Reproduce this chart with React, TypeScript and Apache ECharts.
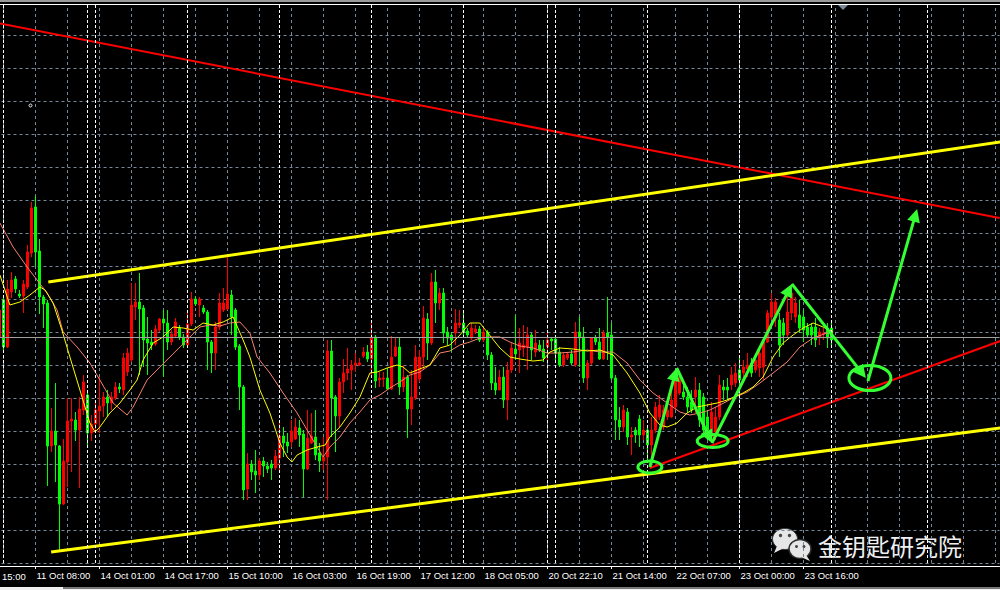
import React, { useEffect, useRef } from 'react';
import * as echarts from 'echarts';

// ---------- axis / layout constants ----------
const N_SLOTS = 258;          // hourly slots across the window (incl. chart shift)
const TICK_STEP = 16;         // a time label every 16 bars
const CANDLE_START = 7;       // slot index of the first (partially visible) candle
const Y_MIN = 1481.7;
const Y_MAX = 1537.8;
const Y_STEP = 3.3;

const tickLabels = [
  '10 Oct 15:00', '11 Oct 08:00', '14 Oct 01:00', '14 Oct 17:00', '15 Oct 10:00',
  '16 Oct 03:00', '16 Oct 19:00', '17 Oct 12:00', '18 Oct 05:00', '20 Oct 22:10',
  '21 Oct 14:00', '22 Oct 07:00', '23 Oct 00:00', '23 Oct 16:00',
];

// ---------- candles (H1) ----------
const opens = [
  1504.3, 1508.0, 1503.3, 1508.8, 1510.1, 1508.6, 1508.4, 1509.3, 1512.7, 1517.3,
  1512.9, 1508.3, 1507.7, 1493.4, 1494.9, 1493.4, 1487.6, 1491.8, 1495.9, 1496.0,
  1495.0, 1497.0, 1498.5, 1494.7, 1495.6, 1496.9, 1497.4, 1498.3, 1497.7, 1498.2,
  1499.3, 1499.0, 1500.8, 1502.0, 1507.3, 1507.8, 1507.2, 1504.1, 1503.8, 1503.6,
  1505.0, 1506.1, 1505.7, 1503.8, 1504.4, 1505.2, 1504.3, 1503.5, 1505.6, 1508.1,
  1507.5, 1507.2, 1506.8, 1503.8, 1502.7, 1505.3, 1507.0, 1507.1, 1508.5, 1507.0,
  1503.4, 1499.3, 1489.1, 1491.6, 1490.9, 1490.5, 1491.9, 1491.4, 1491.6, 1491.2,
  1492.2, 1494.4, 1493.8, 1493.8, 1494.1, 1495.2, 1494.6, 1491.1, 1493.7, 1494.3,
  1492.7, 1491.9, 1492.3, 1502.9, 1498.3, 1496.4, 1499.8, 1500.7, 1501.0, 1501.5,
  1501.5, 1502.4, 1502.8, 1502.1, 1504.3, 1500.0, 1500.1, 1500.2, 1499.1, 1502.4,
  1503.3, 1499.3, 1500.3, 1497.1, 1498.2, 1500.1, 1502.3, 1506.1, 1503.7, 1509.8,
  1507.7, 1508.7, 1504.8, 1504.5, 1504.7, 1505.5, 1505.7, 1504.9, 1504.2, 1504.8,
  1505.1, 1504.0, 1504.8, 1502.5, 1499.7, 1499.0, 1500.3, 1498.0, 1501.0, 1503.1,
  1503.0, 1503.2, 1503.3, 1504.5, 1502.8, 1503.5, 1503.1, 1503.3, 1504.1, 1504.1,
  1502.8, 1501.5, 1502.2, 1502.6, 1501.5, 1504.8, 1504.3, 1500.2, 1501.7, 1504.2,
  1503.8, 1502.1, 1504.7, 1504.5, 1500.2, 1496.0, 1495.3, 1496.8, 1494.3, 1495.0,
  1496.1, 1494.5, 1495.0, 1493.5, 1495.0, 1496.3, 1495.3, 1496.3, 1496.3, 1497.3,
  1498.7, 1498.8, 1498.3, 1497.8, 1498.3, 1499.0, 1498.3, 1496.3, 1494.3, 1494.8,
  1496.3, 1499.3, 1499.3, 1499.5, 1499.7, 1501.0, 1500.7, 1501.1, 1501.7, 1501.0,
  1501.2, 1501.3, 1503.8, 1506.3, 1506.2, 1506.0, 1505.7, 1504.5, 1506.7, 1506.3,
  1506.5, 1506.3, 1505.3, 1505.3, 1505.3, 1504.3, 1504.6, 1505.2, 1505.2,
];
const closes = [
  1507.0, 1503.3, 1509.1, 1510.0, 1509.1, 1508.4, 1509.6, 1512.8, 1517.2, 1512.8,
  1508.3, 1507.6, 1493.4, 1494.9, 1493.5, 1487.6, 1491.9, 1495.9, 1496.1, 1495.0,
  1497.1, 1499.8, 1494.7, 1495.6, 1497.0, 1497.4, 1498.3, 1497.7, 1498.3, 1499.3,
  1499.1, 1502.2, 1502.7, 1507.5, 1507.8, 1507.1, 1504.0, 1503.7, 1503.5, 1505.1,
  1506.1, 1505.7, 1503.8, 1504.6, 1505.8, 1504.3, 1503.5, 1505.6, 1508.1, 1507.6,
  1508.1, 1506.8, 1503.8, 1502.7, 1505.3, 1507.7, 1507.7, 1508.6, 1506.3, 1503.3,
  1499.3, 1489.0, 1491.6, 1490.8, 1490.5, 1491.9, 1491.4, 1491.1, 1491.2, 1492.4,
  1494.4, 1493.7, 1493.4, 1494.9, 1495.3, 1494.5, 1491.1, 1494.2, 1494.4, 1492.5,
  1491.9, 1492.3, 1502.9, 1498.2, 1496.4, 1499.8, 1500.7, 1501.1, 1501.5, 1501.7,
  1501.7, 1502.8, 1502.1, 1504.3, 1499.9, 1500.2, 1500.2, 1499.1, 1502.3, 1503.3,
  1499.3, 1500.3, 1497.1, 1498.3, 1502.3, 1502.3, 1506.2, 1503.7, 1509.8, 1507.7,
  1508.7, 1504.7, 1504.2, 1504.0, 1505.7, 1505.7, 1504.8, 1504.5, 1505.2, 1505.1,
  1504.0, 1504.8, 1502.5, 1499.7, 1499.0, 1500.3, 1498.0, 1501.0, 1503.2, 1502.6,
  1503.7, 1503.5, 1504.5, 1503.0, 1503.7, 1503.0, 1502.2, 1504.0, 1503.9, 1502.7,
  1501.5, 1502.5, 1502.6, 1501.7, 1504.8, 1504.2, 1500.2, 1501.7, 1504.2, 1503.8,
  1502.1, 1504.7, 1504.3, 1500.2, 1496.0, 1495.3, 1497.0, 1494.3, 1494.5, 1494.5,
  1494.5, 1495.0, 1493.5, 1495.0, 1497.3, 1497.5, 1497.0, 1497.0, 1498.0, 1500.0,
  1500.0, 1498.3, 1497.3, 1497.0, 1499.0, 1496.0, 1495.0, 1495.0, 1496.8, 1496.3,
  1499.5, 1499.0, 1499.0, 1500.5, 1500.7, 1500.0, 1501.3, 1501.5, 1500.7, 1502.0,
  1502.7, 1503.8, 1506.7, 1507.8, 1507.8, 1503.5, 1504.5, 1506.8, 1508.7, 1507.7,
  1505.2, 1505.0, 1504.5, 1504.5, 1504.0, 1504.8, 1504.7, 1504.2, 1504.0,
];
const lows = [
  1503.5, 1503.0, 1503.2, 1508.2, 1508.7, 1508.2, 1506.7, 1509.1, 1512.3, 1511.4,
  1506.6, 1505.2, 1489.4, 1492.8, 1489.8, 1483.0, 1487.5, 1489.3, 1490.8, 1493.9,
  1489.2, 1496.5, 1493.3, 1493.9, 1494.7, 1494.7, 1496.3, 1496.4, 1497.0, 1498.0,
  1498.7, 1498.5, 1500.4, 1501.8, 1506.0, 1500.5, 1501.3, 1500.5, 1503.0, 1503.4,
  1504.8, 1500.3, 1503.0, 1503.5, 1504.2, 1504.0, 1503.2, 1503.3, 1505.4, 1507.4,
  1506.3, 1506.6, 1501.0, 1500.7, 1501.0, 1505.0, 1506.8, 1507.0, 1504.5, 1503.0,
  1497.0, 1488.0, 1488.0, 1490.0, 1488.7, 1490.0, 1490.3, 1490.7, 1490.0, 1491.0,
  1491.0, 1492.3, 1492.7, 1493.3, 1494.0, 1493.3, 1488.3, 1491.0, 1493.6, 1492.0,
  1490.8, 1491.0, 1488.0, 1494.3, 1492.8, 1495.3, 1498.7, 1500.0, 1499.0, 1500.8,
  1501.4, 1502.2, 1501.8, 1500.2, 1499.2, 1499.3, 1499.3, 1499.0, 1499.0, 1502.3,
  1498.5, 1498.8, 1494.2, 1495.5, 1498.0, 1499.8, 1501.0, 1502.0, 1503.5, 1505.7,
  1507.0, 1503.7, 1503.5, 1502.8, 1503.5, 1505.2, 1504.2, 1504.2, 1504.0, 1504.6,
  1503.8, 1503.8, 1502.0, 1499.0, 1498.5, 1499.0, 1497.2, 1496.0, 1500.7, 1502.0,
  1500.7, 1502.3, 1501.0, 1502.0, 1502.3, 1502.8, 1501.8, 1502.0, 1503.0, 1501.7,
  1501.3, 1501.3, 1502.0, 1501.5, 1501.3, 1501.3, 1499.7, 1499.0, 1501.5, 1503.5,
  1502.0, 1502.0, 1502.0, 1500.0, 1494.0, 1494.0, 1494.8, 1493.5, 1492.5, 1493.7,
  1493.3, 1494.0, 1492.0, 1491.7, 1494.7, 1496.0, 1495.0, 1496.0, 1496.2, 1497.0,
  1498.5, 1498.0, 1496.7, 1496.7, 1496.7, 1495.3, 1494.7, 1494.0, 1493.7, 1494.0,
  1496.0, 1498.0, 1498.0, 1499.0, 1499.3, 1499.3, 1500.3, 1500.3, 1500.3, 1500.7,
  1500.3, 1500.0, 1503.7, 1506.0, 1505.3, 1502.3, 1503.5, 1504.3, 1506.0, 1505.7,
  1504.7, 1503.8, 1504.2, 1503.5, 1503.3, 1503.5, 1504.0, 1503.2, 1503.3,
];
const highs = [
  1508.0, 1508.4, 1510.0, 1510.8, 1510.4, 1509.0, 1510.0, 1513.5, 1517.8, 1518.4,
  1514.1, 1508.5, 1508.0, 1497.2, 1499.7, 1493.5, 1494.1, 1498.2, 1498.2, 1496.8,
  1498.3, 1500.5, 1499.0, 1496.5, 1497.8, 1500.3, 1498.8, 1499.0, 1498.8, 1499.8,
  1499.7, 1502.7, 1503.2, 1509.7, 1509.7, 1510.7, 1507.5, 1506.3, 1505.0, 1505.5,
  1506.2, 1507.0, 1507.0, 1505.0, 1506.2, 1505.5, 1504.6, 1507.0, 1508.8, 1508.4,
  1508.3, 1507.5, 1507.0, 1504.0, 1505.8, 1508.7, 1509.2, 1512.3, 1509.0, 1507.2,
  1503.6, 1499.5, 1492.7, 1492.0, 1493.0, 1492.2, 1492.3, 1491.8, 1492.0, 1493.0,
  1496.0, 1495.3, 1494.7, 1496.0, 1496.2, 1496.0, 1495.0, 1497.0, 1496.7, 1497.0,
  1493.7, 1494.3, 1504.0, 1504.0, 1498.5, 1500.2, 1502.1, 1503.2, 1502.0, 1502.7,
  1502.2, 1503.3, 1503.5, 1505.8, 1504.5, 1500.8, 1500.8, 1501.2, 1504.4, 1504.3,
  1504.2, 1501.5, 1500.5, 1501.0, 1503.5, 1503.0, 1507.4, 1506.7, 1510.7, 1511.0,
  1509.2, 1509.2, 1505.3, 1504.8, 1507.1, 1507.0, 1506.7, 1505.2, 1505.7, 1505.5,
  1505.4, 1505.2, 1505.0, 1502.8, 1501.3, 1501.0, 1501.3, 1501.8, 1503.7, 1506.5,
  1505.2, 1505.5, 1505.3, 1504.7, 1505.0, 1504.0, 1504.0, 1504.7, 1504.3, 1504.5,
  1503.3, 1502.8, 1502.8, 1503.0, 1505.8, 1506.3, 1505.3, 1502.0, 1504.3, 1504.5,
  1505.2, 1505.0, 1508.3, 1505.7, 1500.5, 1497.3, 1497.5, 1497.2, 1495.3, 1495.3,
  1496.5, 1496.0, 1495.2, 1496.3, 1497.8, 1498.5, 1497.5, 1498.0, 1499.0, 1500.5,
  1500.7, 1499.5, 1499.3, 1499.0, 1500.3, 1499.7, 1498.7, 1497.0, 1497.8, 1497.3,
  1500.5, 1500.0, 1500.2, 1501.3, 1501.7, 1502.3, 1502.0, 1502.7, 1502.2, 1502.5,
  1503.3, 1504.3, 1507.0, 1508.7, 1508.2, 1506.7, 1506.2, 1509.2, 1509.6, 1508.3,
  1508.0, 1507.0, 1505.7, 1505.7, 1506.2, 1505.2, 1505.2, 1505.7, 1505.7,
];

// ---------- moving averages (read at sampled bars) ----------
const maFastIdx = [
  7.1, 9.6, 12.1, 14.6, 17.1, 18.4, 20.4, 22.6, 24.6, 27.1, 29.6, 30.9, 32.1, 34.6, 37.1,
  39.6, 41.4, 42.9, 45.4, 47.9, 50.4, 52.9, 55.4, 57.9, 60.4, 62.9, 65.4, 67.9, 69.6, 72.1,
  74.6, 77.1, 78.9, 80.1, 81.4, 83.9, 86.4, 88.4, 89.6, 92.1, 94.6, 97.1, 99.6, 101.4, 103.9,
  106.4, 107.9, 109.6, 111.4, 114.6, 117.1, 119.6, 122.1, 124.6, 127.1, 128.9, 132.1, 134.6, 137.1, 140.4,
  142.9, 144.6, 147.1, 150.4, 153.9, 157.1, 160.4, 163.9, 167.1, 169.6, 172.1, 173.9, 176.4, 178.9, 181.4,
  183.9, 186.4, 188.9, 192.9, 195.4, 197.9, 200.4, 202.9, 205.4, 207.9, 210.4, 212.9, 215.4,
];
const maFastVal = [
  1510.5, 1507.5, 1507.8, 1508.5, 1509.3, 1509.0, 1507.7, 1505.0, 1502.3, 1499.0, 1495.7, 1494.8, 1495.3, 1496.7, 1497.7,
  1499.0, 1500.0, 1502.0, 1503.7, 1504.3, 1505.3, 1505.2, 1505.0, 1505.7, 1505.5, 1505.8, 1506.3, 1504.0, 1502.3, 1499.0,
  1496.7, 1493.7, 1492.3, 1491.8, 1492.5, 1493.0, 1493.3, 1493.5, 1494.3, 1495.3, 1496.7, 1498.3, 1500.7, 1500.8, 1501.2,
  1501.5, 1501.3, 1500.7, 1501.0, 1501.5, 1503.2, 1503.5, 1504.5, 1505.7, 1505.7, 1504.8, 1503.2, 1502.3, 1502.1, 1501.9,
  1502.0, 1502.8, 1503.2, 1503.1, 1502.9, 1503.0, 1502.5, 1500.7, 1498.7, 1496.7, 1495.5, 1495.3, 1495.7, 1496.7, 1497.3,
  1497.5, 1497.7, 1498.0, 1498.7, 1499.3, 1500.3, 1502.3, 1503.7, 1504.5, 1505.2, 1505.7, 1505.3, 1504.8,
];
const maSlowIdx = [
  7.1, 10.4, 13.9, 16.4, 18.9, 21.4, 22.9, 26.4, 29.6, 32.1, 35.4, 38.9, 40.4, 43.9, 47.1,
  49.6, 52.1, 54.6, 57.1, 59.6, 62.1, 64.6, 67.1, 69.6, 71.4, 74.6, 77.9, 81.4, 83.9, 86.4,
  87.9, 89.6, 92.1, 94.6, 97.1, 99.6, 102.1, 104.6, 107.1, 109.6, 112.1, 114.6, 117.1, 119.6, 122.1,
  124.6, 127.1, 129.6, 132.1, 134.6, 137.1, 140.4, 143.9, 147.1, 150.4, 153.9, 157.1, 160.4, 163.9, 167.1,
  170.4, 173.9, 177.1, 179.6, 182.1, 184.6, 187.1, 190.4, 193.9, 197.1, 200.4, 203.9, 207.1, 210.4, 213.9, 215.4,
];
const maSlowVal = [
  1515.7, 1513.3, 1511.3, 1510.0, 1508.7, 1507.0, 1504.8, 1503.3, 1501.7, 1500.0, 1497.7, 1496.5, 1497.3, 1500.0, 1501.3,
  1502.3, 1503.3, 1504.3, 1505.3, 1505.5, 1505.4, 1505.7, 1505.8, 1504.7, 1502.3, 1500.7, 1498.7, 1496.7, 1495.0, 1493.3,
  1492.3, 1493.3, 1494.3, 1495.7, 1496.8, 1498.0, 1498.5, 1499.2, 1499.8, 1500.5, 1500.8, 1501.5, 1502.7, 1502.9, 1503.5,
  1503.8, 1504.2, 1504.3, 1504.3, 1503.8, 1503.4, 1503.2, 1502.7, 1502.7, 1502.8, 1503.0, 1502.8, 1502.8, 1501.7, 1500.0,
  1498.7, 1497.7, 1496.8, 1496.5, 1496.7, 1497.0, 1497.5, 1498.2, 1498.8, 1499.7, 1500.7, 1501.8, 1503.3, 1504.2, 1504.7, 1504.8,
];

// ---------- drawn objects ----------
const bidPrice = 1504.3;
const daySeparators = [8, 29, 31, 54, 77, 100, 123, 144, 146, 169, 192, 215, 239];

const redDownIdx = [0, 257];
const redDownVal = [1536.2, 1516.2];
const yellowUpIdx = [19.2, 257.2];
const yellowUpVal = [1509.8, 1523.8];
const yellowLowIdx = [19.9, 257.2];
const yellowLowVal = [1482.8, 1495.2];
const redUpIdx = [169.6, 257.2];
const redUpVal = [1491.2, 1503.9];

// green hand-drawn arrows: from point -> arrow tip
const arrowFromIdx = [169.6, 176.3, 185.1, 205.1, 224.1];
const arrowFromVal = [1491.3, 1501.2, 1493.7, 1509.6, 1499.9];
const arrowTipIdx = [176.3, 185.1, 205.1, 223.6, 236.4];
const arrowTipVal = [1501.2, 1493.7, 1509.6, 1500.2, 1517.1];

const ellipseIdx = [169.6, 185.3, 224.6];
const ellipseVal = [1491.3, 1493.9, 1500.2];
const ELLIPSE_RX = [12, 15.5, 21];
const ELLIPSE_RY = [6, 6.5, 12.5];

const GRID_COLOR = '#778899';
const ANNOT_GREEN = '#33ff33';
const LABEL_FONT = '"Liberation Sans", Arial, sans-serif';

const isLabelSlot = (i: number) => i % TICK_STEP === 0 && i / TICK_STEP < tickLabels.length;

export default function App() {
  const ref = useRef<HTMLDivElement>(null);

  useEffect(() => {
    if (!ref.current) return;
    const chart = echarts.init(ref.current, undefined, { renderer: 'svg' });

    const categories = Array.from({ length: N_SLOTS }, (_, i) =>
      isLabelSlot(i) ? tickLabels[i / TICK_STEP] : 'slot' + i);
    const candleData = Array.from({ length: N_SLOTS }, (_, i) => {
      const k = i - CANDLE_START;
      return k >= 0 && k < opens.length ? [opens[k], closes[k], lows[k], highs[k]] : '-';
    });
    const zip = (a: number[], b: number[]) => a.map((v, i) => [v, b[i]]);

    const trend = (name: string, idx: number[], val: number[], color: string, width: number) => ({
      name, type: 'line', xAxisIndex: 1, yAxisIndex: 0, data: zip(idx, val),
      showSymbol: false, symbol: 'none', silent: true, z: 4,
      lineStyle: { color, width, type: 'solid' },
    });

    // the first label is clipped by the window edge: only its time part is visible
    const firstLabelVisible = tickLabels[0].split(' ').pop();

    const option: any = {
      animation: false,
      backgroundColor: '#000000',
      grid: { left: -28.5, right: 0.5, top: 2, bottom: 27, containLabel: false, outerBoundsMode: 'none' },
      xAxis: [
        {
          type: 'category', data: categories, boundaryGap: false, offset: 3,
          axisLine: { show: true, onZero: false, lineStyle: { color: '#ffffff', width: 1 } },
          axisTick: { show: true, interval: (i: number) => isLabelSlot(i) && i > 0, length: 3, lineStyle: { color: '#ffffff' } },
          axisLabel: {
            show: true, interval: (i: number) => isLabelSlot(i) && i > 0, color: '#ffffff', fontSize: 9.5,
            fontFamily: LABEL_FONT, align: 'left', margin: 4, padding: [0, 0, 0, 1],
          },
          splitLine: { show: true, interval: (i: number) => i % 8 === 0, lineStyle: { color: GRID_COLOR, type: [3, 3], width: 1 } },
        },
        { type: 'value', min: 0, max: N_SLOTS - 1, show: false },
      ],
      yAxis: {
        type: 'value', min: Y_MIN, max: Y_MAX, interval: Y_STEP, scale: true,
        axisLine: { show: false }, axisTick: { show: false }, axisLabel: { show: false },
        splitLine: { show: true, lineStyle: { color: GRID_COLOR, type: [3, 3], width: 1 } },
      },
      series: [
        {
          name: 'separators', type: 'line', xAxisIndex: 1, data: [[0, bidPrice]], showSymbol: false, symbol: 'none',
          lineStyle: { width: 0 }, silent: true, z: 1,
          markLine: {
            silent: true, symbol: ['none', 'none'], label: { show: false },
            lineStyle: { color: '#ffffff', type: [3, 2], width: 1 },
            data: daySeparators.map((v) => ({ xAxis: v })),
          },
        },
        {
          name: 'XAU H1', type: 'candlestick', xAxisIndex: 0, data: candleData, barWidth: 2.4, z: 2,
          itemStyle: { color: '#ff0000', color0: '#00ff00', borderColor: '#ff0000', borderColor0: '#00ff00', borderWidth: 1 },
          markLine: {
            silent: true, symbol: ['none', 'none'], label: { show: false },
            lineStyle: { color: '#a0a0a0', type: 'solid', width: 1 },
            data: [{ yAxis: bidPrice }],
          },
        },
        {
          name: 'MA slow', type: 'line', xAxisIndex: 1, data: zip(maSlowIdx, maSlowVal), showSymbol: false, symbol: 'none',
          silent: true, z: 3, lineStyle: { color: '#fa8072', width: 1 },
        },
        {
          name: 'MA fast', type: 'line', xAxisIndex: 1, data: zip(maFastIdx, maFastVal), showSymbol: false, symbol: 'none',
          silent: true, z: 3, lineStyle: { color: '#ffff00', width: 1 },
        },
        trend('red down', redDownIdx, redDownVal, '#ff0000', 2),
        trend('yellow upper', yellowUpIdx, yellowUpVal, '#ffff00', 3),
        trend('yellow lower', yellowLowIdx, yellowLowVal, '#ffff00', 3),
        trend('red up', redUpIdx, redUpVal, '#ff0000', 2),
        {
          name: 'arrows', type: 'custom', xAxisIndex: 1, yAxisIndex: 0, z: 6, silent: true,
          data: arrowFromIdx.map((s, i) => [s, arrowFromVal[i], arrowTipIdx[i], arrowTipVal[i]]),
          encode: { x: [0, 2], y: [1, 3] },
          renderItem: (_params: any, api: any) => {
            const a = api.coord([api.value(0), api.value(1)]);
            const b = api.coord([api.value(2), api.value(3)]);
            const dx = b[0] - a[0];
            const dy = b[1] - a[1];
            const len = Math.hypot(dx, dy) || 1;
            const ux = dx / len;
            const uy = dy / len;
            const HL = 13;
            const HW = 6.5;
            const bx = b[0] - ux * HL;
            const by = b[1] - uy * HL;
            return {
              type: 'group',
              children: [
                {
                  type: 'line',
                  shape: { x1: a[0], y1: a[1], x2: bx + ux * 3, y2: by + uy * 3 },
                  style: { stroke: ANNOT_GREEN, lineWidth: 3 },
                },
                {
                  type: 'polygon',
                  shape: { points: [[b[0], b[1]], [bx - uy * HW, by + ux * HW], [bx + uy * HW, by - ux * HW]] },
                  style: { fill: ANNOT_GREEN },
                },
              ],
            };
          },
        },
        {
          name: 'rings', type: 'custom', xAxisIndex: 1, yAxisIndex: 0, z: 6, silent: true,
          data: zip(ellipseIdx, ellipseVal),
          encode: { x: 0, y: 1 },
          renderItem: (params: any, api: any) => {
            const p = api.coord([api.value(0), api.value(1)]);
            return {
              type: 'ellipse',
              shape: { cx: p[0], cy: p[1], rx: ELLIPSE_RX[params.dataIndex], ry: ELLIPSE_RY[params.dataIndex] },
              style: { fill: 'none', stroke: ANNOT_GREEN, lineWidth: 3 },
            };
          },
        },
      ],
      graphic: [
        { type: 'rect', silent: true, z: 100, shape: { x: 0, y: 0, width: 1000, height: 2 }, style: { fill: '#9a9a9a' } },
        { type: 'rect', silent: true, z: 100, shape: { x: 0, y: 2, width: 1000, height: 2 }, style: { fill: '#000000' } },
        { type: 'line', silent: true, z: 100, shape: { x1: 0, y1: 4.5, x2: 1000, y2: 4.5 }, style: { stroke: '#ffffff', lineWidth: 1 } },
        { type: 'polygon', silent: true, z: 100, shape: { points: [[838, 5], [848, 5], [843, 10]] }, style: { fill: GRID_COLOR } },
        { type: 'circle', silent: true, z: 100, shape: { cx: 30.5, cy: 105.5, r: 1.5 }, style: { fill: 'none', stroke: '#ffffff', lineWidth: 1 } },
        { type: 'rect', silent: true, z: 100, shape: { x: 0, y: 587, width: 1000, height: 3 }, style: { fill: '#f0f0f0' } },
        { type: 'line', silent: true, z: 100, shape: { x1: 63, y1: 588, x2: 1000, y2: 588 }, style: { stroke: '#000000', lineWidth: 1 } },
        {
          type: 'text', silent: true, z: 100, x: 2, y: 576,
          style: { text: firstLabelVisible, fill: '#ffffff', fontSize: 9.5, fontFamily: LABEL_FONT, align: 'left', verticalAlign: 'middle' },
        },
        {
          type: 'group', silent: true, z: 100,
          children: [
            { type: 'ellipse', shape: { cx: 785, cy: 539, rx: 12.5, ry: 10.5 }, style: { fill: '#e6e6e6', stroke: '#3a3a3a', lineWidth: 1 } },
            { type: 'polygon', shape: { points: [[777, 546], [774, 553], [783, 548.5]] }, style: { fill: '#e6e6e6' } },
            { type: 'circle', shape: { cx: 780.5, cy: 535.5, r: 1.7 }, style: { fill: '#444444' } },
            { type: 'circle', shape: { cx: 789.5, cy: 535.5, r: 1.7 }, style: { fill: '#444444' } },
            { type: 'ellipse', shape: { cx: 800, cy: 549, rx: 11, ry: 9.5 }, style: { fill: '#e6e6e6', stroke: '#2a2a2a', lineWidth: 1.5 } },
            { type: 'polygon', shape: { points: [[806, 555], [810, 561], [802, 557.5]] }, style: { fill: '#e6e6e6' } },
            { type: 'circle', shape: { cx: 796.5, cy: 546.5, r: 1.5 }, style: { fill: '#444444' } },
            { type: 'circle', shape: { cx: 804, cy: 546.5, r: 1.5 }, style: { fill: '#444444' } },
            {
              type: 'text', x: 818, y: 545,
              style: {
                text: '金钥匙研究院', fill: '#efefef', fontSize: 24,
                fontFamily: '"Noto Sans CJK SC", sans-serif', align: 'left', verticalAlign: 'middle',
              },
            },
          ],
        },
      ],
    };

    chart.setOption(option);
    return () => chart.dispose();
  }, []);

  return (
    <div
      ref={ref}
      style={{ position: 'fixed', left: 0, top: 0, width: 1000, height: 590, background: '#000' }}
    />
  );
}
